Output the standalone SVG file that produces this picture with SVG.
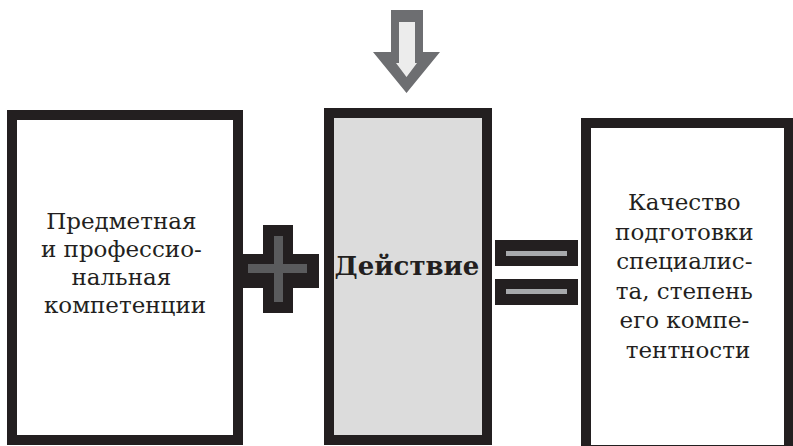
<svg xmlns="http://www.w3.org/2000/svg" width="793" height="446" viewBox="0 0 793 446">
  <style>
    .box { stroke: #231f20; stroke-width: 10; }
    .txt { font-family: "DejaVu Serif", "Liberation Serif", serif; font-size: 23px; fill: #231f20; text-anchor: middle; }
    .bold { font-family: "DejaVu Serif", "Liberation Serif", serif; font-size: 26px; font-weight: bold; fill: #231f20; text-anchor: middle; }
    .blk { fill: #231f20; }
    .gry { fill: #5a5b5d; }
    .lgry { fill: #a7a9ac; }
  </style>
  <rect width="793" height="446" fill="#ffffff"/>

  <g id="box-left">
    <rect class="box" x="12" y="115" width="226" height="325" fill="#ffffff"/>
    <text class="txt">
      <tspan x="125" y="229">Предметная</tspan>
      <tspan x="125" y="257">и профессио-</tspan>
      <tspan x="125" y="285">нальная</tspan>
      <tspan x="125" y="313">компетенции</tspan>
    </text>
  </g>

  <g id="box-middle">
    <rect class="box" x="329" y="113" width="158" height="327" fill="#dcdcdc"/>
    <text class="bold" x="407" y="275">Действие</text>
  </g>

  <g id="box-right">
    <rect class="box" x="586" y="123" width="203" height="327" fill="#ffffff"/>
    <text class="txt">
      <tspan x="688" y="210">Качество</tspan>
      <tspan x="688" y="240">подготовки</tspan>
      <tspan x="688" y="269">специалис-</tspan>
      <tspan x="688" y="299">та, степень</tspan>
      <tspan x="688" y="328">его компе-</tspan>
      <tspan x="688" y="358">тентности</tspan>
    </text>
  </g>

  <g id="connectors">
    <g id="arrow">
      <polygon points="391,10 423,10 423,52 440,52 406.5,93 373,52 391,52" fill="#6d6e71"/>
      <polygon points="399,22 415,22 415,63 417,63 406.5,77 396,63 399,63" fill="#ececec"/>
    </g>
    <g id="plus">
      <rect class="blk" x="243" y="254" width="76" height="34"/>
      <rect class="blk" x="263" y="225" width="30" height="88"/>
      <rect class="gry" x="248" y="264" width="59" height="9"/>
      <rect class="gry" x="274" y="236" width="9" height="66"/>
    </g>
    <g id="equals">
      <rect class="blk" x="495" y="240" width="83" height="26"/>
      <rect class="blk" x="495" y="279" width="83" height="26"/>
      <rect class="lgry" x="506" y="251" width="61" height="5"/>
      <rect class="lgry" x="506" y="289" width="61" height="5"/>
    </g>
  </g>
</svg>
